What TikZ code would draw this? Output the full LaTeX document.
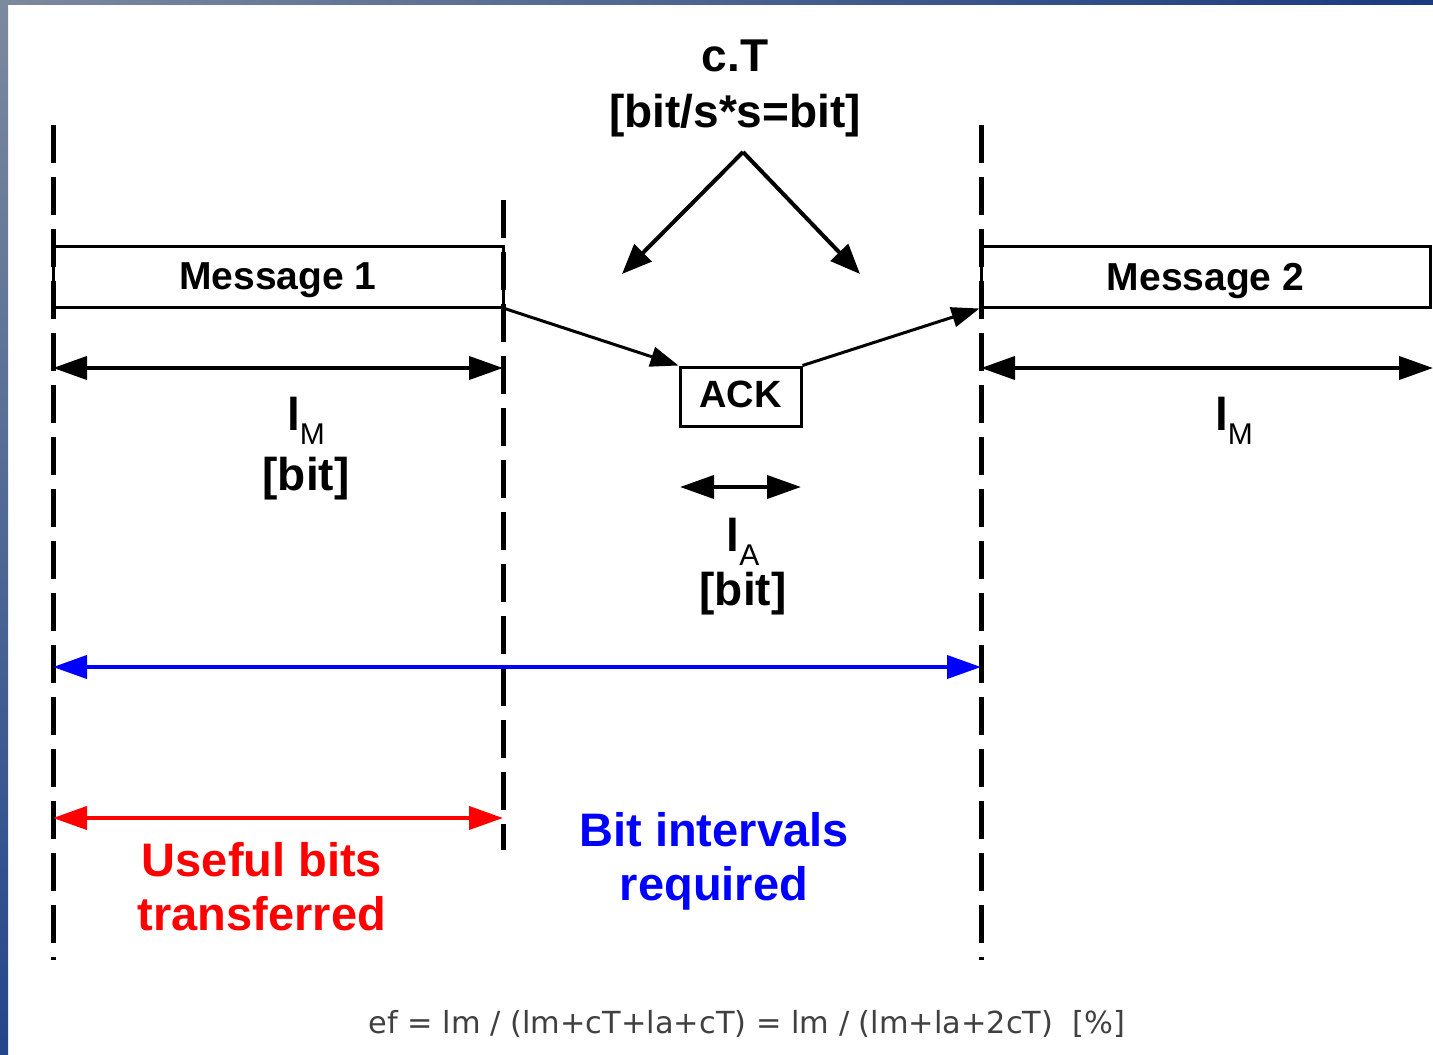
\documentclass[tikz,border=0pt]{standalone}
\usepackage{fontspec}
\setmainfont{Liberation Sans}
\newfontfamily\eqfont{DejaVu Sans}
\usetikzlibrary{arrows.meta}

\definecolor{frametop}{RGB}{124,138,158}
\definecolor{framebot}{RGB}{36,70,138}
\definecolor{frameright}{RGB}{26,58,128}
\definecolor{eqgray}{RGB}{64,64,64}

% bold l with a lowered subscript
\newcommand\lsub[1]{l\raisebox{-7pt}{\fontsize{15}{15}\selectfont\mdseries #1}}

\tikzset{
  guide/.style={line width=2.5pt, dash pattern=on 19pt off 7pt},
  msgbox/.style={draw, line width=1.5pt, inner sep=0pt, text depth=0pt, font=\bfseries\fontsize{19.5}{22}\selectfont},
  dim/.style={line width=2pt, {Triangle[length=17pt,width=11.5pt]}-{Triangle[length=17pt,width=11.5pt]}},
  flow/.style={line width=1.5pt, -{Triangle[length=14pt,width=10pt]}},
  split/.style={line width=2pt, -{Triangle[length=15pt,width=12pt]}},
  biglabel/.style={font=\bfseries\fontsize{23.5}{27}\selectfont, align=center, inner sep=0pt, anchor=base},
}

\begin{document}
\begin{tikzpicture}[x=0.5pt, y=-0.5pt]
    \useasboundingbox (0,0) rectangle (1433,1054);

    % frame
    \shade[top color=frametop, bottom color=framebot] (0,0) rectangle (8,1054);
    \shade[left color=frametop, right color=frameright] (0,0) rectangle (1433,5);

    % time marks
    \coordinate (g1t) at (53,125);
    \coordinate (g1b) at (53,960);
    \coordinate (g2t) at (503,200);
    \coordinate (g2b) at (503,850);
    \coordinate (g3t) at (981,125);
    \coordinate (g3b) at (981,960);
    \draw[guide] (g1t) -- (g1b);
    \draw[guide] (g2t) -- (g2b);
    \draw[guide] (g3t) -- (g3b);

    % messages and acknowledgement
    \node[msgbox, minimum width=225pt, minimum height=30.5pt] (msg1) at (278,276.5) {Message 1};
    \node[msgbox, minimum width=224.5pt, minimum height=30.5pt] (msg2) at (1205.5,276.5) {Message 2};
    \node[msgbox, text depth=2pt, font=\bfseries\fontsize{19}{22}\selectfont, minimum width=60.5pt, minimum height=29.5pt] (ack) at (740.5,396.5) {ACK};

    \draw[flow] (msg1.south east) -- (ack.north west);
    \draw[flow] (ack.north east) -- (msg2.south west);

    % propagation delay
    \node[biglabel, font=\bfseries\fontsize{23}{28}\selectfont] (ct) at (735,127) {c.T\\{[}bit/s*s=bit{]}};
    \coordinate (apex) at (743,152);
    \coordinate (ctl) at (622,274);
    \coordinate (ctr) at (860,274);
    \draw[split] (apex) -- (ctl);
    \draw[split] (apex) -- (ctr);

    % lengths
    \coordinate (m1l) at (53,368);
    \coordinate (m1r) at (503,368);
    \coordinate (m2l) at (981,368);
    \coordinate (m2r) at (1433,368);
    \coordinate (al) at (680,487);
    \coordinate (ar) at (801,487);
    \draw[dim] (m1l) -- (m1r);
    \draw[dim] (m2l) -- (m2r);
    \draw[dim] (al) -- (ar);

    \node[biglabel, font=\bfseries\fontsize{23}{30}\selectfont] (lm1) at (306,490) {\lsub{M}\\{[}bit{]}};
    \node[biglabel, font=\bfseries\fontsize{23}{30}\selectfont] (lm2) at (1234,430) {\lsub{M}};
    \node[biglabel, font=\bfseries\fontsize{23}{27}\selectfont] (la) at (743,605) {\lsub{A}\\{[}bit{]}};

    % totals
    \coordinate (bl) at (53,667);
    \coordinate (br) at (981,667);
    \coordinate (rl) at (53,818);
    \coordinate (rr) at (503,818);
    \draw[dim, blue] (bl) -- (br);
    \draw[dim, red] (rl) -- (rr);

    \node[biglabel, text=red] (useful) at (262,930) {Useful bits\\transferred};
    \node[biglabel, text=blue] (needed) at (714,900) {Bit intervals\\required};

    % efficiency
    \node[font=\eqfont\fontsize{15.2}{16}\selectfont, text=eqgray, anchor=base, inner sep=0pt] (eq) at (747,1033) {ef = lm / (lm+cT+la+cT) = lm / (lm+la+2cT)\ \ [\%]};
\end{tikzpicture}
\end{document}
